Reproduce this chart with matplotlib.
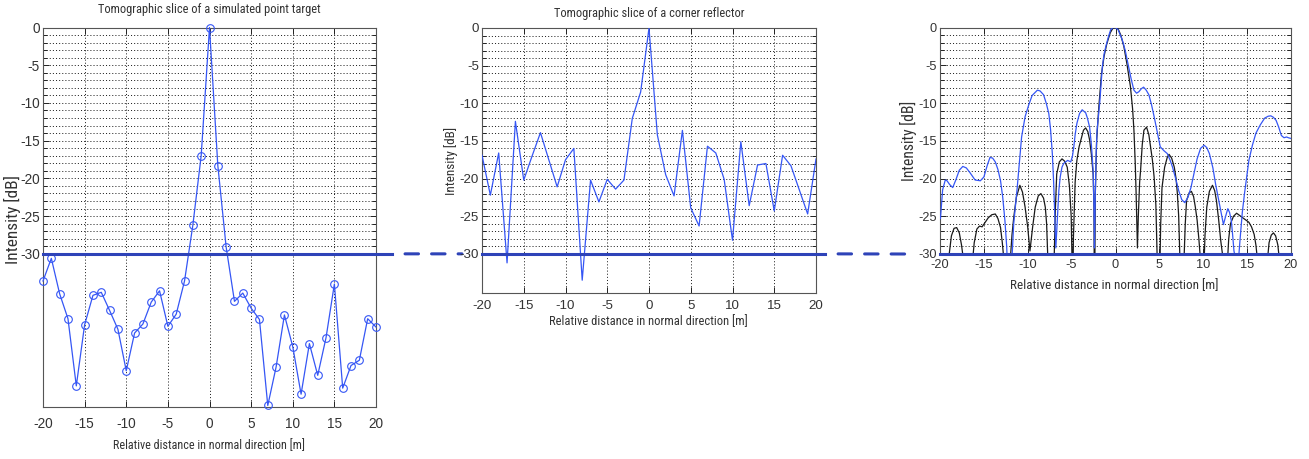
import numpy as np
import matplotlib
matplotlib.use("Agg")
import matplotlib.pyplot as plt
from matplotlib import font_manager
from matplotlib.patches import ConnectionPatch
from matplotlib.transforms import blended_transform_factory
from matplotlib.ticker import FixedLocator

# ---------------- data ----------------
P1_X = list(range(-20, 21))
P1_DB = [-33.6, -30.6, -35.3, -38.6, -47.5, -39.4, -35.5, -35.1, -37.5, -40.0,
         -45.5, -40.5, -39.3, -36.4, -34.9, -39.6, -38.0, -33.6, -26.2, -17.0,
         0.0, -18.3, -29.1, -36.3, -35.2, -37.2, -38.7, -50.1, -45.0, -38.1,
         -42.3, -48.6, -41.9, -46.1, -41.1, -34.0, -47.8, -44.8, -44.1, -38.6,
         -39.7]

P2_X = list(range(-20, 21))
P2_DB = [-16.9, -22.2, -16.6, -31.2, -12.4, -20.2, -17.0, -13.9, -17.5, -21.1,
         -17.5, -16.0, -33.5, -20.2, -23.1, -20.1, -21.4, -20.2, -12.0, -8.5,
         0.0, -14.2, -19.5, -22.3, -13.6, -23.9, -26.3, -15.7, -16.6, -20.1,
         -28.2, -15.1, -23.6, -18.2, -18.0, -24.3, -16.9, -18.3, -21.5, -24.7,
         -17.4]

P3_BLUE_X = [-19.95, -19.7, -19.4, -19.2, -18.9, -18.55, -18.2, -17.8, -17.4, -17.0,
             -16.6, -16.0, -15.4, -15.0, -14.6, -14.3, -14.0, -13.7, -13.4, -13.1,
             -12.85, -12.6, -12.4, -12.3, -11.9, -11.75, -11.6, -11.2, -10.7, -10.3,
             -9.9, -9.5, -8.9, -8.6, -8.2, -7.9, -7.6, -7.4, -7.2, -7.05,
             -6.95, -6.8, -6.65, -6.45, -6.3, -6.1, -5.9, -5.45, -5.1, -4.9,
             -4.75, -4.6, -4.4, -4.1, -3.8, -3.4, -3.2, -2.95, -2.75, -2.55,
             -2.45, -2.4, -2.3, -2.2, -2.1, -1.8, -1.5, -1.3, -1.1, -0.8,
             -0.55, -0.3, 0.0, 0.3, 0.76, 1.1, 1.5, 1.8, 2.1, 2.4,
             2.67, 2.95, 3.2, 3.5, 3.8, 4.1, 4.4, 4.75, 5.1, 5.5,
             5.9, 6.2, 6.5, 6.9, 7.2, 7.55, 7.9, 8.25, 8.6, 9.0,
             9.3, 9.7, 10.1, 10.4, 10.7, 11.1, 11.4, 11.7, 12.0, 12.3,
             12.55, 12.8, 13.0, 13.2, 13.35, 13.5, 13.75, 14.0, 14.2, 14.45,
             14.7, 15.2, 15.6, 16.0, 16.5, 17.0, 17.4, 17.7, 18.0, 18.3,
             18.6, 18.9, 19.2, 19.5, 19.7, 20.0]
P3_BLUE_DB = [-25.3, -21.5, -20.2, -20.3, -20.8, -21.2, -20.2, -18.9, -18.4, -18.6,
              -19.2, -20.2, -20.3, -19.8, -18.2, -17.2, -17.3, -17.8, -18.8, -20.3,
              -22.5, -25.6, -29.0, -32.0, -32.0, -29.5, -26.0, -21.2, -14.5, -11.8,
              -10.3, -9.0, -8.3, -8.4, -8.9, -10.0, -11.4, -13.5, -16.7, -20.5,
              -23.8, -29.2, -26.0, -21.5, -19.8, -18.5, -18.0, -17.6, -17.8, -17.0,
              -15.8, -14.2, -12.7, -11.4, -10.9, -11.3, -12.0, -13.2, -15.5, -18.9,
              -24.0, -29.2, -22.0, -16.5, -13.6, -10.0, -5.2, -3.5, -2.5, -1.2,
              -0.3, 0.0, 0.0, -0.3, -1.6, -3.0, -5.2, -6.9, -8.3, -8.7,
              -8.5, -8.1, -7.9, -8.3, -8.9, -10.2, -11.8, -13.8, -15.8, -16.3,
              -16.7, -17.5, -18.5, -20.2, -21.6, -22.8, -23.2, -22.5, -21.2, -19.0,
              -17.4, -16.0, -15.6, -15.9, -16.7, -18.6, -20.7, -22.5, -24.3, -26.1,
              -25.0, -24.0, -24.5, -25.6, -27.5, -29.6, -31.0, -31.0, -28.0, -24.5,
              -22.0, -17.6, -15.6, -14.0, -12.9, -12.0, -11.75, -11.7, -11.9, -12.3,
              -13.2, -14.3, -14.6, -14.5, -14.6, -14.7]

P3_BLACK_X = [-19.3, -18.95, -18.7, -18.4, -18.1, -17.8, -17.55, -17.3, -16.8,
              -16.3, -16.1, -15.8, -15.5, -15.2, -14.85, -14.5, -14.1, -13.7, -13.4,
              -13.1, -12.9, -12.7, -12.4,
              -12.0, -11.8, -11.6, -11.3, -10.9, -10.6, -10.3, -10.0, -9.75, -9.45,
              -9.15, -8.8, -8.5, -8.2, -8.0, -7.85, -7.7, -7.35,
              -7.0, -6.85, -6.7, -6.4, -6.1, -5.8, -5.5, -5.25, -5.05, -4.95, -4.9,
              -4.8, -4.6, -4.4, -4.15, -3.9, -3.65, -3.4, -3.15, -2.95, -2.75,
              -2.55, -2.45, -2.4,
              -2.3, -2.15, -1.9, -1.6, -1.3, -1.0, -0.6, -0.3, 0.0, 0.3,
              0.6, 0.95, 1.3, 1.7, 1.95, 2.1, 2.25, 2.35, 2.5,
              2.6, 2.75, 2.86, 3.05, 3.24, 3.54, 3.8, 4.0, 4.2, 4.4, 4.6, 4.76, 4.9,
              5.07, 5.15, 5.3, 5.6, 5.9, 6.1, 6.4, 6.7, 6.9, 7.05, 7.2, 7.35, 7.55,
              7.8, 7.95, 8.1, 8.4, 8.65, 8.9, 9.1, 9.3, 9.5, 9.7, 9.9,
              10.1, 10.2, 10.4, 10.7, 11.05, 11.3, 11.5, 11.75, 12.0, 12.3, 12.5,
              12.76, 12.9, 13.1, 13.45, 13.8, 14.15, 14.5, 14.85, 15.2, 15.5, 15.8,
              16.0, 16.2, 16.7,
              17.3, 17.5, 17.75, 18.0, 18.25, 18.5, 18.7, 19.0]
P3_BLACK_DB = [-45.0, -30.0, -27.6, -26.6, -26.5, -27.2, -28.8, -31.0, -45.0,
               -31.0, -28.5, -26.7, -26.3, -26.4, -25.8, -25.2, -24.8, -24.7, -25.3,
               -26.5, -28.5, -31.0, -45.0,
               -31.0, -27.5, -25.2, -22.5, -20.9, -21.8, -23.8, -26.5, -29.6, -26.5,
               -23.8, -22.3, -22.0, -22.6, -23.8, -26.0, -31.0, -45.0,
               -31.0, -24.0, -19.4, -17.8, -17.4, -17.7, -18.5, -21.0, -25.0, -31.0, -40.0,
               -28.0, -20.5, -17.6, -15.8, -14.7, -13.6, -13.3, -13.8, -14.9, -16.8,
               -19.4, -24.0, -40.0,
               -22.0, -15.0, -10.5, -6.2, -3.8, -2.2, -0.7, -0.1, 0.0, -0.2,
               -1.0, -2.5, -4.8, -7.8, -10.8, -13.6, -18.0, -22.0, -29.2,
               -25.0, -20.5, -18.9, -15.5, -13.6, -13.2, -14.2, -15.8, -17.5, -19.8, -23.5, -31.0, -45.0,
               -31.0, -26.0, -21.2, -18.5, -17.2, -16.8, -17.3, -18.5, -20.0, -22.0, -25.0, -31.0, -45.0,
               -31.0, -26.0, -22.9, -21.9, -21.7, -22.4, -23.8, -25.5, -28.0, -31.0, -45.0,
               -31.0, -27.5, -23.8, -21.7, -20.9, -21.6, -22.9, -25.4, -28.3, -31.0, -45.0,
               -31.0, -28.0, -26.0, -25.0, -24.6, -24.9, -25.2, -25.5, -25.8, -26.4, -27.4,
               -28.8, -31.0, -45.0,
               -31.0, -28.5, -27.5, -27.2, -27.6, -28.8, -31.0, -45.0]

THRESHOLD_DB = -30
X_TICKS = [-20, -15, -10, -5, 0, 5, 10, 15, 20]
Y_TICKS = [-30, -25, -20, -15, -10, -5, 0]
Y_MINOR = list(range(-30, 1))

TITLE1 = "Tomographic slice of a simulated point target"
TITLE2 = "Tomographic slice of a corner reflector"
XLABEL = "Relative distance in normal direction [m]"
YLABEL = "Intensity [dB]"

# ---------------- style ----------------
W, H = 1309, 459
BLUE = "#3556f5"
BLACK = "#1a1a1a"
TH_COLOR = "#2e43b8"
TEXT_C = "#333333"

names = {f.name for f in font_manager.fontManager.ttflist}
LABEL_FONT = "Liberation Sans"
k = 1.0
for cand, kk in [("Liberation Sans Narrow", 1.2), ("Roboto Condensed", 1.22),
                 ("Open Sans Condensed", 1.1)]:
    if cand in names:
        LABEL_FONT, k = cand, kk
        break
TICK_FONT = "Liberation Sans"

plt.rcParams["font.family"] = [TICK_FONT, "DejaVu Sans"]
plt.rcParams["axes.unicode_minus"] = False
plt.rcParams["lines.scale_dashes"] = False

TITLE_FS = [7.9 * k * 0.93, 7.9 * k * 0.93]
XL_FS = [7.9 * k * 0.91, 8.0 * k * 0.92, 8.3 * k * 0.93]
YL_FS = [10.2 * k, 8.4 * k * 0.93, 9.6 * k * 0.96]
TICK_FS = [9.8, 9.6, 9.2]

fig = plt.figure(figsize=(W / 100, H / 100), dpi=100)


def add_axes_px(left, top, right, bottom):
    return fig.add_axes([left / W, 1 - bottom / H, (right - left) / W, (bottom - top) / H])


ax1 = add_axes_px(43, 27.5, 376, 407)
ax2 = add_axes_px(482, 28, 816, 293)
ax3 = add_axes_px(940, 27.5, 1291, 254)


def style(ax, ymin, xpad, tfs):
    ax.set_xlim(-20, 20)
    ax.set_ylim(ymin, 0)
    ax.xaxis.set_major_locator(FixedLocator(X_TICKS))
    ax.yaxis.set_major_locator(FixedLocator(Y_TICKS))
    ax.yaxis.set_minor_locator(FixedLocator(Y_MINOR))
    ax.tick_params(which="both", direction="in", top=True, right=True,
                   colors="#222222", labelcolor=TEXT_C, labelsize=tfs)
    ax.tick_params(which="major", length=4, width=0.7)
    ax.tick_params(which="minor", length=3, width=0.7)
    ax.tick_params(axis="x", pad=xpad)
    ax.tick_params(axis="y", pad=2.2)
    dot = (0, (0.75, 1.5))
    ax.grid(True, axis="x", which="major", linestyle=dot, linewidth=0.7, color="#222222")
    ax.grid(True, axis="y", which="both", linestyle=dot, linewidth=0.7, color="#222222")
    ax.set_axisbelow(True)
    for s in ax.spines.values():
        s.set_color("#555555")
        s.set_linewidth(0.8)


def to_axes(ax, px, py):
    bb = ax.get_position()
    xa = (px / W - bb.x0) / bb.width
    ya = ((1 - py / H) - bb.y0) / bb.height
    return xa, ya


style(ax1, -50.3, 7.0, TICK_FS[0])
style(ax2, -35.2, 5.0, TICK_FS[1])
style(ax3, -30.0, 3.8, TICK_FS[2])

# data
ax1.plot(P1_X, P1_DB, color=BLUE, lw=0.9, marker="o", ms=5.5, mfc="none",
         mew=0.8, clip_on=False, zorder=3)
ax2.plot(P2_X, P2_DB, color=BLUE, lw=0.9, zorder=3)
ax3.plot(P3_BLACK_X, P3_BLACK_DB, color=BLACK, lw=0.9, zorder=3)
ax3.plot(P3_BLUE_X, P3_BLUE_DB, color=BLUE, lw=0.9, zorder=3)

# threshold line (solid inside panels, dashed between them)
ax1.axhline(THRESHOLD_DB, xmin=0, xmax=1.048, clip_on=False, color=TH_COLOR, lw=2.2, zorder=5)
ax2.axhline(THRESHOLD_DB, xmin=0, xmax=1.027, clip_on=False, color=TH_COLOR, lw=2.2, zorder=5)
ax3.axhline(THRESHOLD_DB, xmin=0, xmax=1.0, clip_on=False, color=TH_COLOR, lw=2.2, zorder=5)

dash = (9.7, (9.7, 9.4))
for a, b, xa, xb in [(ax1, ax2, 1.048, -0.06), (ax2, ax3, 1.027, -0.091)]:
    con = ConnectionPatch(
        xyA=(xa, THRESHOLD_DB), coordsA=blended_transform_factory(a.transAxes, a.transData),
        xyB=(xb, THRESHOLD_DB), coordsB=blended_transform_factory(b.transAxes, b.transData),
        color=TH_COLOR, lw=2.2, linestyle=dash, zorder=-1)
    fig.add_artist(con)

# titles
ax1.set_title(TITLE1, fontsize=TITLE_FS[0], family=[LABEL_FONT, "DejaVu Sans"],
              color=TEXT_C, y=to_axes(ax1, 209, 9)[1], va="center", pad=0)
ax2.set_title(TITLE2, fontsize=TITLE_FS[1], family=[LABEL_FONT, "DejaVu Sans"],
              color=TEXT_C, y=to_axes(ax2, 647, 14)[1], va="center", pad=0)

# axis labels
specs = [(ax1, (209, 446), (12.0, 219), 0),
         (ax2, (648, 322), (451.5, 161), 1),
         (ax3, (1114, 286), (908, 141), 2)]
for ax, xl, yl, i in specs:
    ax.set_xlabel(XLABEL, fontsize=XL_FS[i], family=[LABEL_FONT, "DejaVu Sans"], color=TEXT_C)
    ax.xaxis.label.set_va("center")
    ax.xaxis.set_label_coords(*to_axes(ax, *xl))
    ax.set_ylabel(YLABEL, fontsize=YL_FS[i], family=[LABEL_FONT, "DejaVu Sans"], color=TEXT_C)
    ax.yaxis.label.set_va("center")
    ax.yaxis.set_label_coords(*to_axes(ax, *yl))

fig.savefig("out.png", dpi=100)
